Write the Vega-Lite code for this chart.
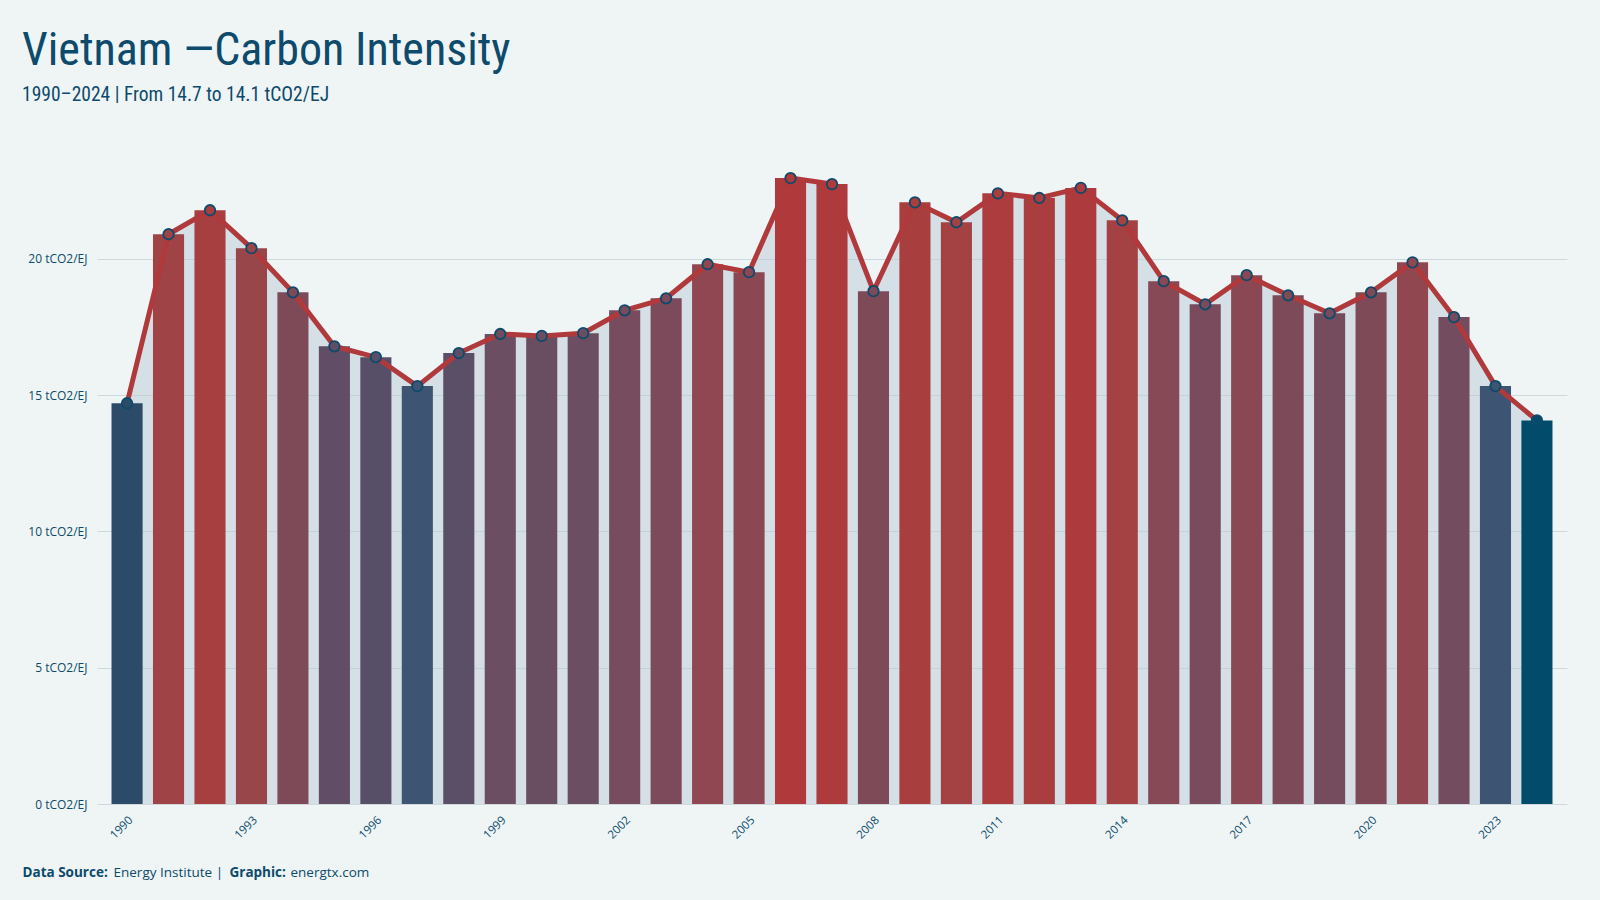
{
  "$schema": "https://vega.github.io/schema/vega-lite/v6.json",
  "autosize": {"type": "none"},
  "width": 1470,
  "height": 657,
  "padding": {"left": 97, "top": 147, "right": 33, "bottom": 96},
  "background": "#eff5f5",
  "title": {
    "text": "Vietnam —Carbon Intensity",
    "subtitle": "1990–2024 | From 14.7 to 14.1 tCO2/EJ",
    "anchor": "start",
    "frame": "group",
    "dx": -75,
    "offset": 42,
    "font": "Liberation Sans Narrow, Roboto Condensed, DejaVu Sans Condensed, sans-serif",
    "fontSize": 46,
    "fontWeight": "normal",
    "color": "#0d4a6b",
    "subtitleFont": "Liberation Sans Narrow, Roboto Condensed, DejaVu Sans Condensed, sans-serif",
    "subtitleFontSize": 19.5,
    "subtitleColor": "#0d4a6b",
    "subtitlePadding": 11
  },
  "data": {
    "values": [
      {"year": 1990, "value": 14.7},
      {"year": 1991, "value": 20.9},
      {"year": 1992, "value": 21.78},
      {"year": 1993, "value": 20.39},
      {"year": 1994, "value": 18.77},
      {"year": 1995, "value": 16.79},
      {"year": 1996, "value": 16.39},
      {"year": 1997, "value": 15.33},
      {"year": 1998, "value": 16.54},
      {"year": 1999, "value": 17.24},
      {"year": 2000, "value": 17.17},
      {"year": 2001, "value": 17.27},
      {"year": 2002, "value": 18.11},
      {"year": 2003, "value": 18.55},
      {"year": 2004, "value": 19.8},
      {"year": 2005, "value": 19.51},
      {"year": 2006, "value": 22.96},
      {"year": 2007, "value": 22.74},
      {"year": 2008, "value": 18.81},
      {"year": 2009, "value": 22.07},
      {"year": 2010, "value": 21.34},
      {"year": 2011, "value": 22.4},
      {"year": 2012, "value": 22.23},
      {"year": 2013, "value": 22.6},
      {"year": 2014, "value": 21.41},
      {"year": 2015, "value": 19.18},
      {"year": 2016, "value": 18.33},
      {"year": 2017, "value": 19.4},
      {"year": 2018, "value": 18.66},
      {"year": 2019, "value": 18.0},
      {"year": 2020, "value": 18.77},
      {"year": 2021, "value": 19.87},
      {"year": 2022, "value": 17.86},
      {"year": 2023, "value": 15.33},
      {"year": 2024, "value": 14.07}
    ]
  },
  "layer": [
    {
      "mark": {"type": "area", "color": "#b3c8d4", "opacity": 0.45},
      "encoding": {
        "x": {
          "field": "year", "type": "ordinal",
          "scale": {"paddingInner": 0.25, "paddingOuter": 0.35},
          "axis": {
            "values": [1990, 1993, 1996, 1999, 2002, 2005, 2008, 2011, 2014, 2017, 2020, 2023],
            "labelAngle": -45,
            "labelFontSize": 11.5,
            "labelFont": "Open Sans",
            "labelColor": "#0d4a6b",
            "labelPadding": 10,
            "domain": false,
            "ticks": false,
            "grid": false,
            "title": "Energy Institute |",
            "titleFont": "Open Sans",
            "titleFontSize": 13.5,
            "titleFontWeight": "normal",
            "titleColor": "#0d4a6b",
            "titleAlign": "left",
            "titleAnchor": "start",
            "titleBaseline": "alphabetic",
            "titleX": 16,
            "titleY": 72
          }
        },
        "y": {
          "field": "value", "type": "quantitative",
          "scale": {"domain": [0, 24.1], "nice": false},
          "axis": {
            "values": [0, 5, 10, 15, 20],
            "labelExpr": "datum.value + ' tCO2/EJ'",
            "labelFontSize": 12,
            "labelFont": "Open Sans",
            "labelColor": "#0d4a6b",
            "labelPadding": 10,
            "domain": false,
            "ticks": false,
            "grid": true,
            "gridColor": "#cfd9dd",
            "gridWidth": 1,
            "title": "Data Source:",
            "titleFont": "Open Sans",
            "titleFontSize": 13.5,
            "titleFontWeight": "bold",
            "titleColor": "#0d4a6b",
            "titleAngle": 0,
            "titleAlign": "left",
            "titleAnchor": "start",
            "titleBaseline": "alphabetic",
            "titleX": -75,
            "titleY": 729
          }
        }
      }
    },
    {
      "mark": {"type": "bar"},
      "encoding": {
        "x": {"field": "year", "type": "ordinal", "axis": null},
        "y": {"field": "value", "type": "quantitative", "axis": null},
        "color": {
          "field": "value", "type": "quantitative", "legend": null,
          "scale": {
            "domain": [14.07, 14.7, 15.33, 16.4, 17.2, 18.8, 20.4, 21.4, 22.96],
            "range": ["#034b6b", "#2c4b69", "#3d5472", "#574f68", "#6a4e62", "#7f4a57", "#99464b", "#a44142", "#b0393b"]
          }
        }
      }
    },
    {
      "mark": {"type": "line", "color": "#b0393b", "strokeWidth": 5},
      "encoding": {
        "x": {"field": "year", "type": "ordinal", "axis": null},
        "y": {"field": "value", "type": "quantitative", "axis": null}
      }
    },
    {
      "mark": {"type": "point", "shape": "circle", "filled": true, "size": 110, "stroke": "#0d4a6b", "strokeWidth": 1.8, "opacity": 1},
      "encoding": {
        "x": {
          "field": "year", "type": "ordinal",
          "axis": {
            "orient": "top",
            "labels": false, "domain": false, "ticks": false, "grid": false,
            "title": "energtx.com",
            "titleFont": "Open Sans",
            "titleFontSize": 13.5,
            "titleFontWeight": "normal",
            "titleColor": "#0d4a6b",
            "titleAlign": "left",
            "titleAnchor": "start",
            "titleBaseline": "alphabetic",
            "titleX": 193,
            "titleY": 729
          }
        },
        "y": {
          "field": "value", "type": "quantitative",
          "axis": {
            "orient": "right",
            "labels": false, "domain": false, "ticks": false, "grid": false,
            "title": "Graphic:",
            "titleFont": "Open Sans",
            "titleFontSize": 13.5,
            "titleFontWeight": "bold",
            "titleColor": "#0d4a6b",
            "titleAngle": 0,
            "titleAlign": "left",
            "titleAnchor": "start",
            "titleBaseline": "alphabetic",
            "titleX": -1338,
            "titleY": 729
          }
        },
        "color": {"field": "value", "type": "quantitative", "legend": null}
      }
    }
  ],
  "resolve": {"axis": {"x": "independent", "y": "independent"}},
  "config": {
    "view": {"stroke": null}
  }
}
